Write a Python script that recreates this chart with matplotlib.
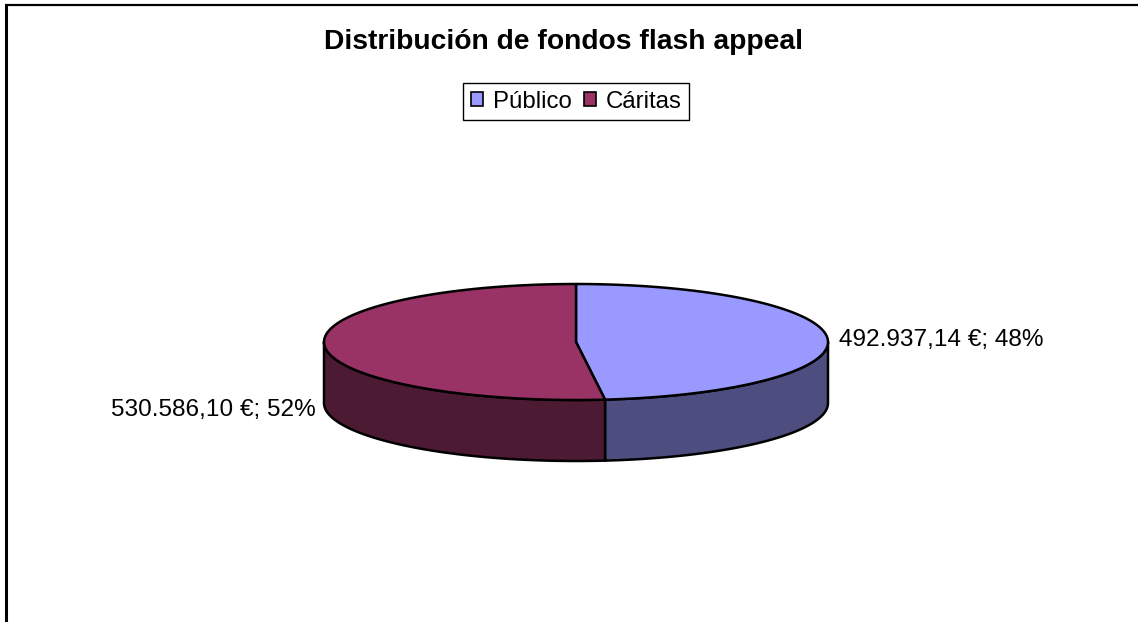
import numpy as np
from matplotlib import pyplot as plt
from matplotlib.patches import Patch

categories = ['Público', 'Cáritas']
values = [492937.14, 530586.10]
pieLabels = ['492.937,14 €; 48%', '530.586,10 €; 52%']
topColors = ['#9999FF', '#993366']
sideColors = ['#4D4D80', '#4D1A33']

plt.rcParams['font.family'] = ['Liberation Sans', 'DejaVu Sans']

fig = plt.figure(figsize=(11.38, 6.22), dpi=100)
ax = fig.add_axes([0, 0, 1, 1])
# y axis runs downward, one unit is one pixel of the image
ax.set_xlim(0, 1138)
ax.set_ylim(622, 0)
ax.axis('off')

centerX, centerY = 576, 342
radiusX, radiusY = 252, 58
depth = 61

fractions = np.array(values) / sum(values)
edges = np.pi / 2 - 2 * np.pi * np.concatenate([[0], np.cumsum(fractions)])


def rimPoints(start, end):
    angles = np.linspace(start, end, 200)
    return centerX + radiusX * np.cos(angles), centerY - radiusY * np.sin(angles)


# side walls, only the front half of the ellipse shows
wallRanges = [(0, edges[1]), (edges[1], -np.pi)]
for i in range(2):
    x, y = rimPoints(*wallRanges[i])
    ax.fill(np.r_[x, x[::-1]], np.r_[y, y[::-1] + depth], facecolor=sideColors[i],
            edgecolor='black', linewidth=1.8, joinstyle='round')

# top slices
for i in range(2):
    x, y = rimPoints(edges[i], edges[i + 1])
    ax.fill(np.r_[centerX, x], np.r_[centerY, y], facecolor=topColors[i],
            edgecolor='black', linewidth=1.8, joinstyle='round')

ax.text(1044, 340, pieLabels[0], ha='right', va='center', fontsize=17.6)
ax.text(316, 410, pieLabels[1], ha='right', va='center', fontsize=17.6)

ax.text(563.5, 42, 'Distribución de fondos flash appeal', ha='center', va='center',
        fontsize=20.3, fontweight='bold')

handles = [Patch(facecolor=topColors[i], edgecolor='black', linewidth=1.2, label=categories[i])
           for i in range(2)]
legend = ax.legend(handles=handles, ncol=2, loc='center', bbox_to_anchor=(576 / 1138, 1 - 101.5 / 622),
                   fontsize=17.3, frameon=True, fancybox=False, framealpha=1, edgecolor='black',
                   handlelength=0.5, handleheight=0.5, handletextpad=0.42, columnspacing=0.5,
                   borderpad=0.33, borderaxespad=0)
legend.get_frame().set_linewidth(1.0)

# chart frame, open at the bottom and on the right
ax.plot([6, 6], [622, 4.5], color='black', linewidth=2.2, solid_capstyle='butt')
ax.plot([5, 1138], [4.5, 4.5], color='black', linewidth=1.6, solid_capstyle='butt')

plt.savefig('out.png', dpi=100)
